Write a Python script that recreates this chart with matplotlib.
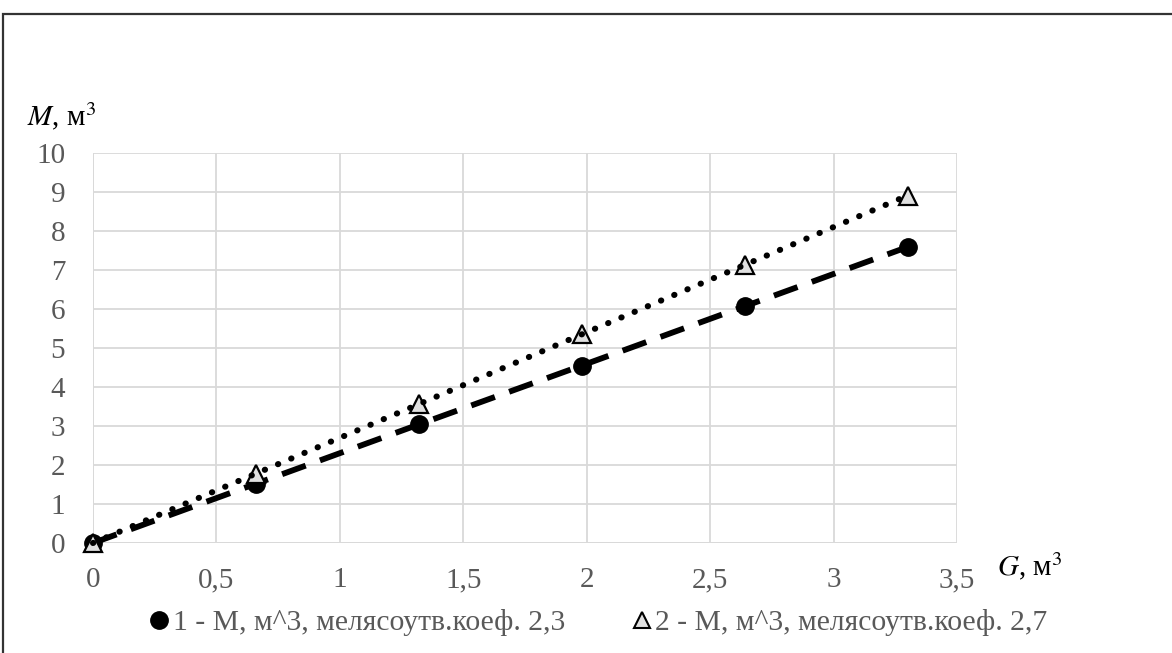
import matplotlib
matplotlib.use("Agg")
import matplotlib.pyplot as plt
from matplotlib.lines import Line2D
from matplotlib.patches import Rectangle

g_vals = [0, 0.66, 1.32, 1.98, 2.64, 3.30]
m1_vals = [0, 1.52, 3.04, 4.55, 6.07, 7.59]
m2_vals = [0, 1.78, 3.56, 5.35, 7.13, 8.91]
x_ticks = [0, 0.5, 1, 1.5, 2, 2.5, 3, 3.5]
x_tick_labels = ["0", "0,5", "1", "1,5", "2", "2,5", "3", "3,5"]
y_ticks = list(range(0, 11))
label1 = "1 - M, м^3, мелясоутв.коеф. 2,3"
label2 = "2 - M, м^3, мелясоутв.коеф. 2,7"

plt.rcParams['font.family'] = ['Liberation Serif', 'DejaVu Serif']
W, H = 1172, 653
fig = plt.figure(figsize=(W / 100, H / 100), dpi=100)

# outer frame
fig.patches.append(Rectangle((3 / W, -0.1), 1.2, (H - 14) / H + 0.1, transform=fig.transFigure,
                             fill=False, edgecolor='#333333', linewidth=1.6))

ax = fig.add_axes([93 / W, 1 - 543 / H, (957 - 93) / W, (543 - 153) / H])
grid_c = '#d9d9d9'
ax.set_xlim(0, 3.5)
ax.set_ylim(0, 10)
ax.set_xticks(x_ticks)
ax.set_xticklabels(x_tick_labels)
ax.set_yticks(y_ticks)
ax.grid(True, color=grid_c, linewidth=1.3)
for s in ax.spines.values():
    s.set_visible(False)
ax.tick_params(length=0, labelsize=21, labelcolor='#595959')
ax.tick_params(axis='x', pad=17.5)
ax.tick_params(axis='y', pad=20)
ax.axhline(0, color=grid_c, linewidth=1.3, zorder=1)
ax.axvline(0, color=grid_c, linewidth=1.3, zorder=1)
ax.set_axisbelow(True)

ax.plot(g_vals, m1_vals, color='black', linewidth=4.2, linestyle=(0, (4.3, 2.6)),
        marker='o', markersize=12.5, markerfacecolor='black', markeredgecolor='black', zorder=3, clip_on=False)
ax.plot(g_vals, m2_vals, color='none', linestyle='none',
        marker='^', markersize=13, markerfacecolor='#e0e0e0', markeredgecolor='black', markeredgewidth=1.6,
        zorder=4, clip_on=False)
ax.plot(g_vals, m2_vals, color='black', linewidth=4.4, linestyle=(0, (0.05, 2.3)), dash_capstyle='round',
        zorder=5, clip_on=False)

fig.text(27 / W, 1 - 116 / H, r"$\mathit{M}$, м$^3$", fontsize=21, va='center', ha='left',
         math_fontfamily='stix')
fig.text(997 / W, 1 - 566 / H, r"$\mathit{G}$, м$^3$", fontsize=21, va='center', ha='left',
         math_fontfamily='stix')

h1 = Line2D([], [], linestyle='none', marker='o', markersize=12.5, color='black')
h2 = Line2D([], [], linestyle='none', marker='^', markersize=12, markerfacecolor='#e0e0e0',
            markeredgecolor='black', markeredgewidth=1.5)
leg = fig.legend([h1, h2], [label1, label2], loc='center', bbox_to_anchor=(599 / W, 1 - 623 / H),
                 ncol=2, frameon=False, fontsize=21.3, handlelength=0.6, handletextpad=0.15,
                 columnspacing=2.3)
for t in leg.get_texts():
    t.set_color('#595959')

fig.savefig('out.png', dpi=100)
